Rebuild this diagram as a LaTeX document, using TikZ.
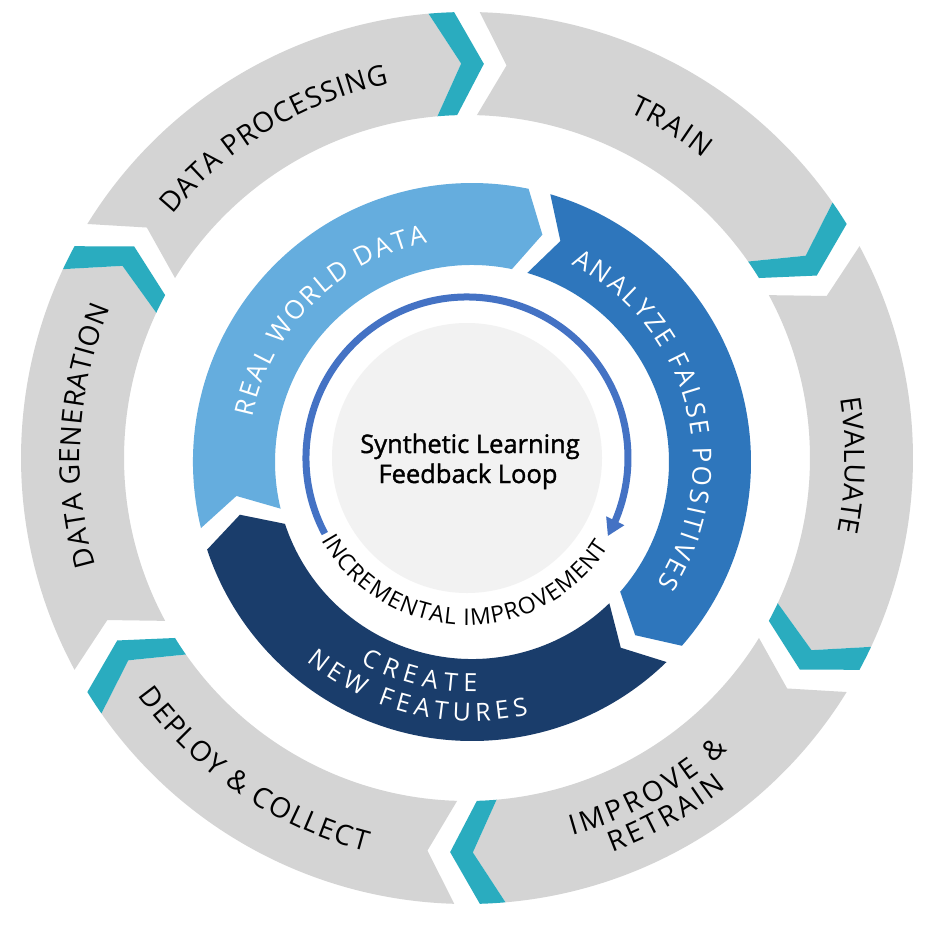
\documentclass[tikz,border=0pt]{standalone}
\usepackage{fontspec}
\setmainfont{Open Sans}
\newfontfamily\centerfont[FakeBold=1.4]{Open Sans}
\usetikzlibrary{decorations.text,arrows.meta,bending}
\definecolor{ringgray}{HTML}{D4D4D4}
\definecolor{tealc}{HTML}{2AACBF}
\definecolor{blueA}{HTML}{65ADDE}
\definecolor{blueB}{HTML}{2E76BC}
\definecolor{blueC}{HTML}{1A3D6B}
\definecolor{arrowc}{HTML}{4472C4}
\definecolor{centerc}{HTML}{F2F2F2}
\newcommand\fsz[1]{\fontsize{#1}{#1}\selectfont}
% outer ring
\def\ORo{446}\def\ORi{343}\def\ORm{394.5}
\def\og{1.65}\def\ow{3.3}\def\od{4.1}
\newcommand\OSeg[2]{%
 \fill[ringgray] ({#1-\og}:\ORo) arc[start angle={#1-\og}, end angle={#2+\og+\ow}, radius=\ORo]
   -- ({#2+\og+\ow-\od}:\ORm) -- ({#2+\og+\ow}:\ORi)
   arc[start angle={#2+\og+\ow}, end angle={#1-\og}, radius=\ORi]
   -- ({#1-\og-\od}:\ORm) -- cycle;
 \fill[tealc] ({#2+\og+\ow}:\ORo) arc[start angle={#2+\og+\ow}, end angle={#2+\og}, radius=\ORo]
   -- ({#2+\og-\od}:\ORm) -- ({#2+\og}:\ORi)
   arc[start angle={#2+\og}, end angle={#2+\og+\ow}, radius=\ORi]
   -- ({#2+\og+\ow-\od}:\ORm) -- cycle;}
% inner ring
\def\IRo{279}\def\IRi{197}\def\IRm{238}
\def\ig{2.3}\def\id{5.5}
\newcommand\ISeg[3]{%
 \fill[#3] ({#1-\ig}:\IRo) arc[start angle={#1-\ig}, end angle={#2+\ig}, radius=\IRo]
  -- ({#2+\ig-\id}:\IRm) -- ({#2+\ig}:\IRi)
  arc[start angle={#2+\ig}, end angle={#1-\ig}, radius=\IRi]
  -- ({#1-\ig-\id}:\IRm) -- cycle;}
\newcommand\ArcText[6]{%
 \path[decorate, decoration={text along path, text align={fit to path}, text color=#5, text={|\fsz{#4}|#6}}]
   (#2:#1) arc[start angle=#2, end angle=#3, radius=#1];}
\begin{document}
\begin{tikzpicture}[x=1pt,y=1pt]
\useasboundingbox[fill=white] (0,0) rectangle (928,-950);
\begin{scope}[shift={(467,-458)}]
 \OSeg{150}{90}
 \OSeg{90}{30}
 \OSeg{30}{-30}
 \OSeg{-30}{-90}
 \OSeg{-90}{-150}
 \OSeg{210}{150}
\end{scope}
\begin{scope}[shift={(472,-462)}]
 \ISeg{196}{76}{blueA}
 \ISeg{76}{-43.5}{blueB}
 \ISeg{-43.5}{-164}{blueC}
\end{scope}
\begin{scope}[shift={(467,-458)}]
 \fill[centerc] (0,0) circle[radius=135];
 \draw[arrowc, line width=7pt, -{Triangle[length=17pt,width=19pt]}] (208:161) arc[start angle=208, end angle=-29, radius=161];
 \ArcText{382}{140.5}{101.8}{28}{black}{DATA PROCESSING}
 \ArcText{382}{64.9}{51.8}{28}{black}{TRAIN}
 \ArcText{378}{9.0}{-11.3}{28}{black}{EVALUATE}
 \ArcText{387}{196.1}{157.2}{28}{black}{DATA GENERATION}
 \ArcText{406}{215.8}{255.6}{28}{black}{DEPLOY {\&} COLLECT}
 \ArcText{392}{-74.4}{-48.3}{28}{black}{IMPROVE {\&}}
 \ArcText{420}{-69.8}{-51.8}{28}{black}{RETRAIN}
 \ArcText{167}{-150.5}{-32}{23}{black}{INCREMENTAL IMPROVEMENT}
\end{scope}
\begin{scope}[shift={(472,-462)}]
 \ArcText{224}{168.5}{101.5}{26}{white}{REAL WORLD DATA}
 \ArcText{221}{63.3}{-33.4}{26}{white}{ANALYZE FALSE POSITIVES}
 \ArcText{230}{-118.9}{-88.7}{25}{white}{CREATE}
 \ArcText{259}{-129.8}{-77.4}{25}{white}{NEW FEATURES}
\end{scope}
\node[font=\centerfont\fsz{25.5}, anchor=base] (t1) at (470,-453) {Synthetic Learning};
\node[font=\centerfont\fsz{25.5}, anchor=base] (t2) at (468,-483) {Feedback Loop};
\end{tikzpicture}
\end{document}
